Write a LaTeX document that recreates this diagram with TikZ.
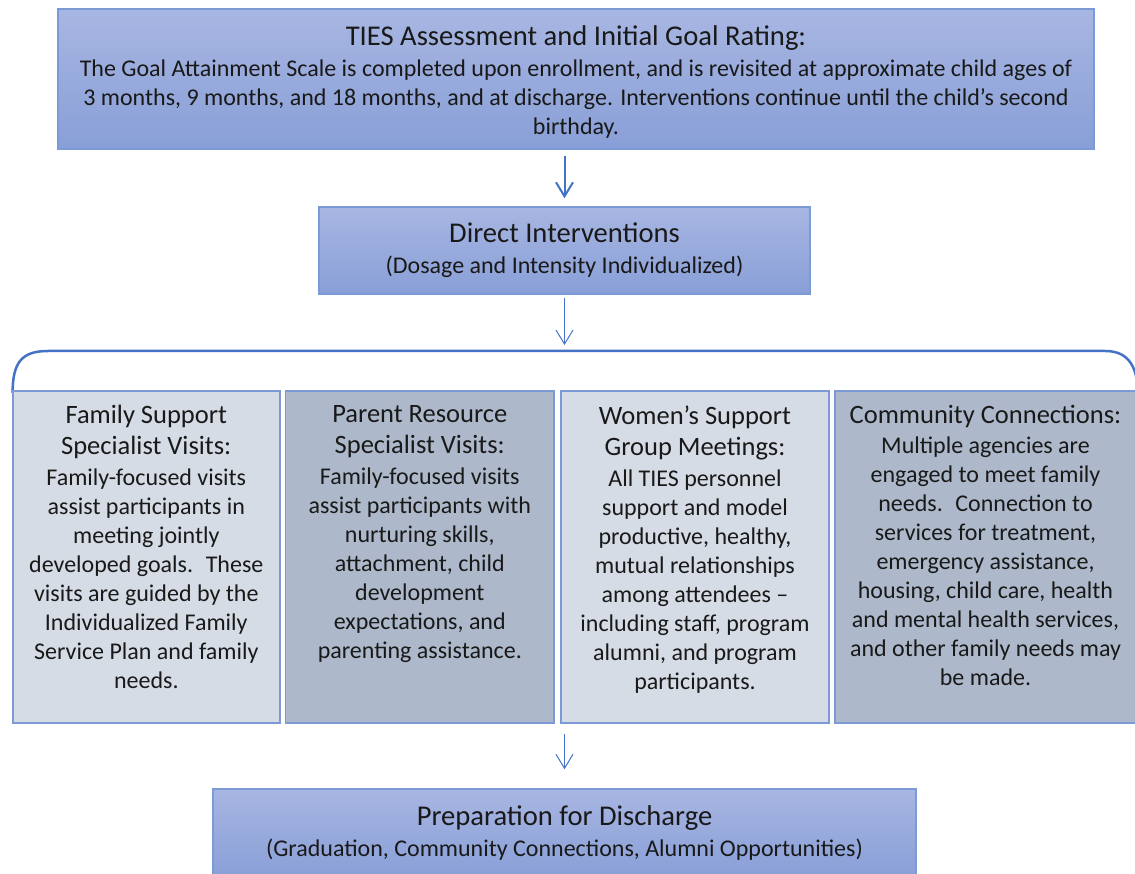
\documentclass[tikz,border=0pt]{standalone}
\usepackage{fontspec}
\setmainfont{Carlito}
\usetikzlibrary{arrows.meta}

\definecolor{tiesblue}{RGB}{68,114,196}
\definecolor{edgeblue}{RGB}{124,154,214}
\definecolor{shadetop}{RGB}{168,182,226}
\definecolor{shadebot}{RGB}{136,159,215}
\definecolor{panellight}{RGB}{214,220,229}
\definecolor{paneldark}{RGB}{173,185,202}
\definecolor{ink}{RGB}{25,25,25}

\newcommand{\headfont}{\fontsize{28.6}{33}\selectfont}
\newcommand{\panelfont}{\fontsize{26.5}{31}\selectfont}
\newcommand{\bodyfont}{\fontsize{24}{29}\selectfont}

\begin{document}
\begin{tikzpicture}[x=1pt, y=-1pt,
  stage/.style={draw=edgeblue, line width=1.5pt, top color=shadetop, bottom color=shadebot,
    inner sep=0pt, align=center, text=ink, font=\bodyfont},
  panel/.style={draw=edgeblue, line width=1.5pt, inner sep=0pt, minimum height=332pt},
  panetext/.style={anchor=north, align=center, inner sep=0pt, text=ink, font=\bodyfont, yshift=-15pt},
  flow/.style={draw=tiesblue, line width=1pt, -{Straight Barb[length=14pt, width=17pt]}}]

  \useasboundingbox (0,0) rectangle (1135,874);

  \node[stage, minimum width=1036pt, minimum height=140pt] (ties) at (576,79)
    {\rule{0pt}{26pt}{\headfont TIES Assessment and Initial Goal Rating:}\\[2pt]
     The Goal Attainment Scale is completed upon enrollment, and is revisited at approximate child ages of\\
     3 months, 9 months, and 18 months, and at discharge. Interventions continue until the child’s second\\
     birthday.};

  \node[stage, minimum width=491pt, minimum height=87pt] (direct) at (564.5,250.5)
    {{\headfont Direct Interventions}\\[2pt]
     (Dosage and Intensity Individualized)};

  \coordinate (fork) at (564.5,351);
  \draw[tiesblue, line width=2.5pt] (12.6,393) .. controls (12.6,362) and (22,351) .. (48,351)
    -- (1105,351) .. controls (1125,351) and (1137,362) .. (1138,392);

  \node[panel, fill=panellight, minimum width=267pt] (fss) at (146.3,557) {};
  \node[panel, fill=paneldark, minimum width=268.5pt] (prs) at (419.8,557) {};
  \node[panel, fill=panellight, minimum width=268pt] (wsg) at (695,557) {};
  \node[panel, fill=paneldark, minimum width=305pt] (comm) at (987.5,557) {};

  \node[panetext] (fsstext) at (fss.north)
    {{\panelfont Family Support}\\[2pt]
     {\panelfont Specialist Visits:}\\[2pt]
     Family-focused visits\\
     assist participants in\\
     meeting jointly\\
     developed goals.~ These\\
     visits are guided by the\\
     Individualized Family\\
     Service Plan and family\\
     needs.};
  \node[panetext] (prstext) at (prs.north)
    {{\panelfont Parent Resource}\\[2pt]
     {\panelfont Specialist Visits:}\\[2pt]
     Family-focused visits\\
     assist participants with\\
     nurturing skills,\\
     attachment, child\\
     development\\
     expectations, and\\
     parenting assistance.};
  \node[panetext] (wsgtext) at (wsg.north)
    {{\panelfont Women’s Support}\\[2pt]
     {\panelfont Group Meetings:}\\[2pt]
     All TIES personnel\\
     support and model\\
     productive, healthy,\\
     mutual relationships\\
     among attendees –\\
     including staff, program\\
     alumni, and program\\
     participants.};
  \node[panetext, xshift=-2pt] (commtext) at (comm.north)
    {{\panelfont Community Connections:}\\[1pt]
     Multiple agencies are\\
     engaged to meet family\\
     needs.~ Connection to\\
     services for treatment,\\
     emergency assistance,\\
     housing, child care, health\\
     and mental health services,\\
     and other family needs may\\
     be made.};

  \node[stage, minimum width=703pt, minimum height=88pt] (prep) at (564.5,833)
    {{\headfont Preparation for Discharge}\\[2pt]
     (Graduation, Community Connections, Alumni Opportunities)};

  \draw[flow, line width=2pt, shorten <=6pt, shorten >=8pt] (direct.north |- ties.south) -- (direct.north);
  \draw[flow, shorten <=3pt, shorten >=6pt] (direct.south) -- (fork);
  \draw[flow, shorten <=10pt, shorten >=19pt] (prep.north |- fss.south) -- (prep.north);

\end{tikzpicture}
\end{document}
